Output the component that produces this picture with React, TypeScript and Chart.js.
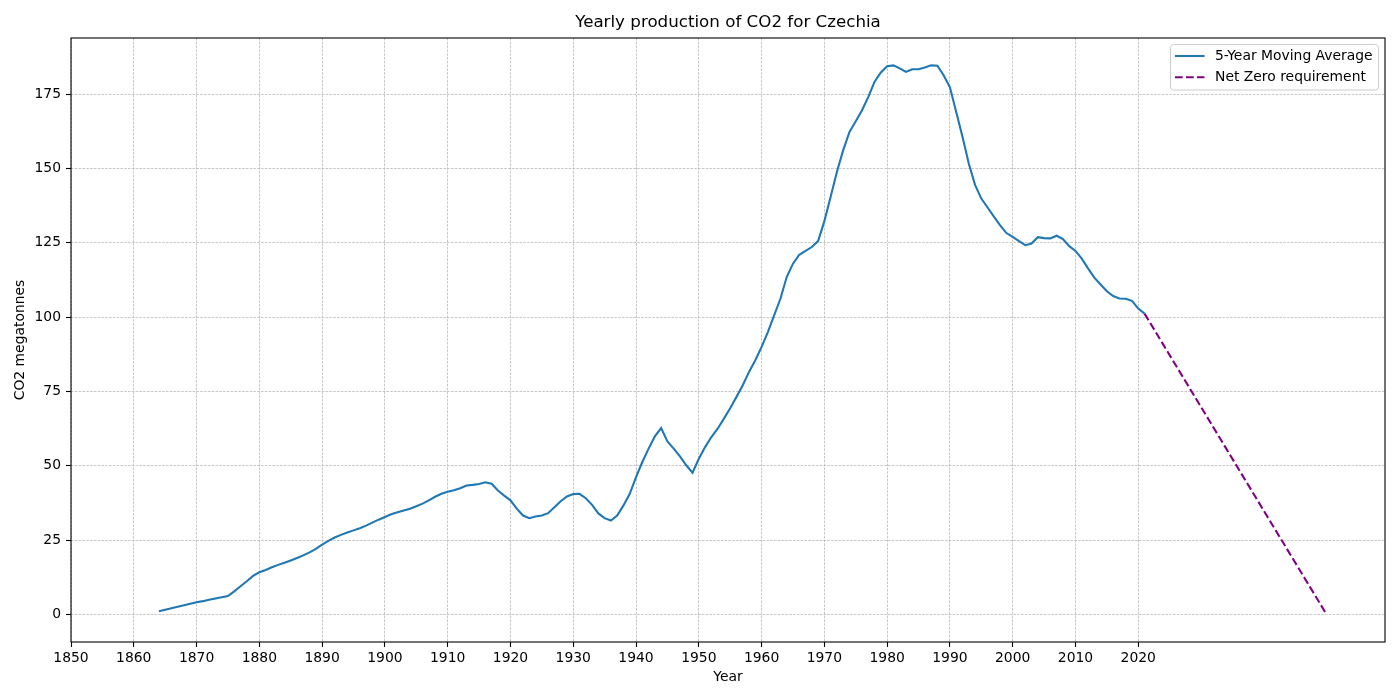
import React, { useEffect, useRef } from "react";
import { Chart, registerables } from "chart.js";

Chart.register(...registerables);

const TITLE = "Yearly production of CO2 for Czechia";
const X_LABEL = "Year";
const Y_LABEL = "CO2 megatonnes";
const SERIES_LABEL = "5-Year Moving Average";
const NET_ZERO_LABEL = "Net Zero requirement";

const YEARS = [
  1864, 1865, 1866, 1867, 1868, 1869,
  1870, 1871, 1872, 1873, 1874, 1875, 1876, 1877, 1878, 1879,
  1880, 1881, 1882, 1883, 1884, 1885, 1886, 1887, 1888, 1889,
  1890, 1891, 1892, 1893, 1894, 1895, 1896, 1897, 1898, 1899,
  1900, 1901, 1902, 1903, 1904, 1905, 1906, 1907, 1908, 1909,
  1910, 1911, 1912, 1913, 1914, 1915, 1916, 1917, 1918, 1919,
  1920, 1921, 1922, 1923, 1924, 1925, 1926, 1927, 1928, 1929,
  1930, 1931, 1932, 1933, 1934, 1935, 1936, 1937, 1938, 1939,
  1940, 1941, 1942, 1943, 1944, 1945, 1946, 1947, 1948, 1949,
  1950, 1951, 1952, 1953, 1954, 1955, 1956, 1957, 1958, 1959,
  1960, 1961, 1962, 1963, 1964, 1965, 1966, 1967, 1968, 1969,
  1970, 1971, 1972, 1973, 1974, 1975, 1976, 1977, 1978, 1979,
  1980, 1981, 1982, 1983, 1984, 1985, 1986, 1987, 1988, 1989,
  1990, 1991, 1992, 1993, 1994, 1995, 1996, 1997, 1998, 1999,
  2000, 2001, 2002, 2003, 2004, 2005, 2006, 2007, 2008, 2009,
  2010, 2011, 2012, 2013, 2014, 2015, 2016, 2017, 2018, 2019,
  2020, 2021,
];

const CO2 = [
  1.1, 1.6, 2.1, 2.6, 3.1, 3.6,
  4.1, 4.5, 5.0, 5.4, 5.8, 6.2, 7.8, 9.5, 11.2, 13.0,
  14.2, 15.0, 15.9, 16.7, 17.4, 18.2, 19.0, 19.9, 20.9, 22.1,
  23.5, 24.8, 25.9, 26.8, 27.6, 28.3, 29.0, 29.9, 30.9, 31.9,
  32.8, 33.7, 34.4, 35.0, 35.6, 36.4, 37.3, 38.4, 39.6, 40.6,
  41.3, 41.8, 42.5, 43.4, 43.6, 43.9, 44.5, 44.0, 41.7, 40.0,
  38.4, 35.6, 33.3, 32.4, 33.0, 33.3, 34.1, 36.1, 38.1, 39.7,
  40.5, 40.6, 39.1, 36.9, 34.0, 32.4, 31.6, 33.3, 36.7, 40.6,
  46.2, 51.3, 55.8, 59.9, 62.7, 58.2, 55.8, 53.2, 50.2, 47.7,
  52.4, 56.3, 59.7, 62.5, 65.9, 69.4, 73.2, 77.1, 81.6, 85.5,
  90.0, 95.0, 100.6, 106.2, 113.5, 118.0, 121.0, 122.3, 123.6, 125.6,
  132.3, 140.5, 148.9, 156.2, 162.3, 165.9, 169.6, 174.1, 179.2, 182.3,
  184.4, 184.7, 183.7, 182.5, 183.4, 183.4, 184.0, 184.7, 184.6, 181.4,
  177.3, 169.0, 160.7, 151.7, 144.5, 139.9, 136.9, 133.8, 130.9, 128.3,
  127.0, 125.6, 124.2, 124.8, 126.9, 126.6, 126.5, 127.4, 126.3, 123.9,
  122.3, 119.7, 116.4, 113.3, 111.0, 108.7, 107.1, 106.3, 106.2, 105.5,
  102.9, 101.2,
];

const NET_ZERO_YEARS = [2021, 2050];
const NET_ZERO_VALUES = [101.2, 0];

const X_TICKS = [1850, 1860, 1870, 1880, 1890, 1900, 1910, 1920, 1930, 1940, 1950, 1960, 1970, 1980, 1990, 2000, 2010, 2020];
const Y_TICKS = [0, 25, 50, 75, 100, 125, 150, 175];

const X_MIN = 1850;
const X_MAX = 2059.3;
const Y_MIN = -9.24;
const Y_MAX = 193.9;

const FONT = "'DejaVu Sans', sans-serif";
const BLUE = "#1f77b4";
const PURPLE = "#800080";
const GRID = "#b0b0b0";

export default function App() {
  const canvasRef = useRef<HTMLCanvasElement | null>(null);

  useEffect(() => {
    const canvas = canvasRef.current;
    if (!canvas) return;

    const overlay = {
      id: "mplOverlay",
      afterDatasetsDraw(chart: any) {
        const { ctx, chartArea } = chart;
        ctx.save();
        ctx.strokeStyle = "#000";
        ctx.lineWidth = 1.1;
        ctx.setLineDash([]);
        ctx.strokeRect(chartArea.left, chartArea.top, chartArea.right - chartArea.left, chartArea.bottom - chartArea.top);
        ctx.restore();
      },
      afterDraw(chart: any) {
        const { ctx, chartArea } = chart;
        ctx.save();
        // title
        ctx.fillStyle = "#000";
        ctx.font = `16.7px ${FONT}`;
        ctx.textAlign = "center";
        ctx.textBaseline = "middle";
        ctx.fillText(TITLE, (chartArea.left + chartArea.right) / 2, 23);

        // legend
        const bx = 1170.5, by = 44.5, bw = 208, bh = 45.5;
        ctx.beginPath();
        ctx.roundRect(bx, by, bw, bh, 3);
        ctx.fillStyle = "rgba(255,255,255,0.8)";
        ctx.fill();
        ctx.strokeStyle = "#cccccc";
        ctx.lineWidth = 1;
        ctx.stroke();

        const entries = [
          { label: SERIES_LABEL, color: BLUE, dash: [] as number[], y: 56 },
          { label: NET_ZERO_LABEL, color: PURPLE, dash: [7.7, 3.3], y: 77.3 },
        ];
        for (const e of entries) {
          ctx.beginPath();
          ctx.setLineDash(e.dash);
          ctx.strokeStyle = e.color;
          ctx.lineWidth = 2.08;
          ctx.moveTo(1175, e.y);
          ctx.lineTo(1204.5, e.y);
          ctx.stroke();
          ctx.setLineDash([]);
          ctx.fillStyle = "#000";
          ctx.font = `13.9px ${FONT}`;
          ctx.textAlign = "left";
          ctx.textBaseline = "middle";
          ctx.fillText(e.label, 1215, e.y);
        }
        ctx.restore();
      },
    };

    const chart = new Chart(canvas, {
      type: "line",
      data: {
        datasets: [
          {
            label: SERIES_LABEL,
            data: YEARS.map((yr, i) => ({ x: yr, y: CO2[i] })),
            borderColor: BLUE,
            borderWidth: 2.08,
            pointRadius: 0,
            tension: 0,
            fill: false,
          },
          {
            label: NET_ZERO_LABEL,
            data: NET_ZERO_YEARS.map((yr, i) => ({ x: yr, y: NET_ZERO_VALUES[i] })),
            borderColor: PURPLE,
            borderWidth: 2.08,
            borderDash: [7.7, 3.3],
            pointRadius: 0,
            tension: 0,
            fill: false,
          },
        ],
      },
      options: {
        animation: false,
        responsive: false,
        devicePixelRatio: 1,
        events: [],
        layout: { padding: { left: 0, right: 15, top: 38, bottom: 0 } },
        plugins: {
          legend: { display: false },
          title: { display: false },
          tooltip: { enabled: false },
        },
        scales: {
          x: {
            type: "linear",
            min: X_MIN,
            max: X_MAX,
            afterBuildTicks: (scale: any) => {
              scale.ticks = X_TICKS.map((v) => ({ value: v }));
            },
            afterFit: (scale: any) => {
              scale.height = 58;
            },
            ticks: {
              autoSkip: false,
              maxRotation: 0,
              minRotation: 0,
              padding: 3,
              color: "#000",
              font: { family: FONT, size: 13.9 },
              callback: (v: any) => String(v),
            },
            grid: {
              color: GRID,
              lineWidth: 0.7,
              tickColor: "#000",
              tickLength: 5,
              tickWidth: 1.1,
              tickBorderDash: [],
            },
            border: { display: false, dash: [2.6, 1.2] },
            title: {
              display: true,
              text: X_LABEL,
              color: "#000",
              font: { family: FONT, size: 13.9 },
              padding: { top: 0, bottom: 14.5 },
            },
          },
          y: {
            type: "linear",
            min: Y_MIN,
            max: Y_MAX,
            afterBuildTicks: (scale: any) => {
              scale.ticks = Y_TICKS.map((v) => ({ value: v }));
            },
            afterFit: (scale: any) => {
              scale.width = 71;
            },
            ticks: {
              autoSkip: false,
              padding: 5,
              color: "#000",
              font: { family: FONT, size: 13.9 },
              callback: (v: any) => String(v),
            },
            grid: {
              color: GRID,
              lineWidth: 0.7,
              tickColor: "#000",
              tickLength: 5,
              tickWidth: 1.1,
              tickBorderDash: [],
            },
            border: { display: false, dash: [2.6, 1.2] },
            title: {
              display: true,
              text: Y_LABEL,
              color: "#000",
              font: { family: FONT, size: 13.9 },
              padding: { top: 12.5, bottom: 0 },
            },
          },
        },
      },
      plugins: [overlay],
    } as any);

    return () => chart.destroy();
  }, []);

  return (
    <div style={{ position: "absolute", left: 0, top: 0, width: 1400, height: 700, background: "#fff" }}>
      <canvas ref={canvasRef} width={1400} height={700} style={{ display: "block" }} />
    </div>
  );
}
